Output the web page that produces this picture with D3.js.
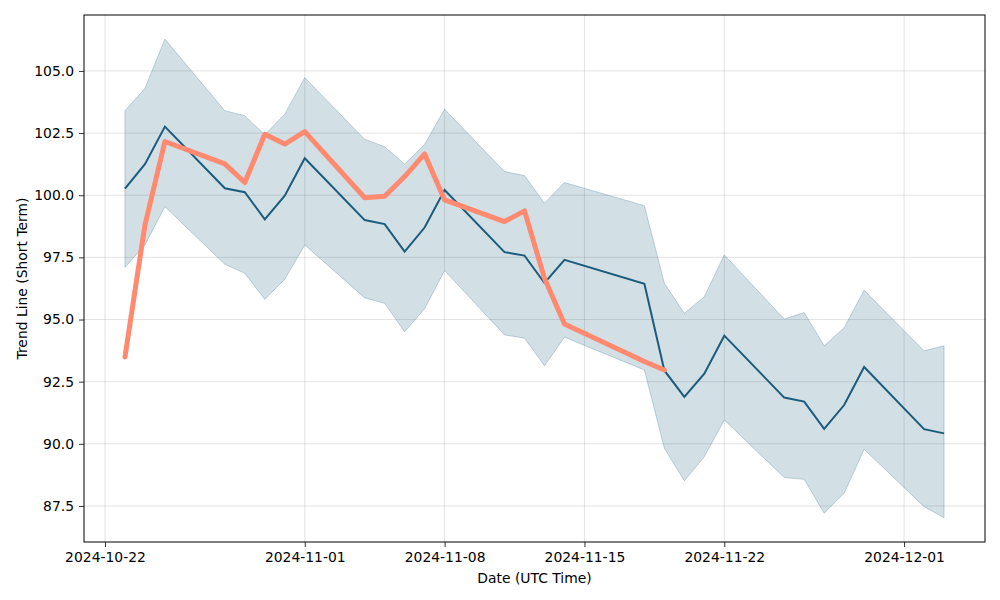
<!DOCTYPE html>
<html>
<head>
<meta charset="utf-8">
<script src="https://cdn.jsdelivr.net/npm/d3@7"></script>
<style>
  body { margin: 0; background: #fff; }
  svg { font-family: "DejaVu Sans", sans-serif; }
</style>
</head>
<body>
<svg id="chart" width="1000" height="600"></svg>
<script>
var dates = ["2024-10-23","2024-10-24","2024-10-25","2024-10-28","2024-10-29","2024-10-30","2024-10-31",
             "2024-11-01","2024-11-04","2024-11-05","2024-11-06","2024-11-07","2024-11-08","2024-11-11",
             "2024-11-12","2024-11-13","2024-11-14","2024-11-18","2024-11-19","2024-11-20","2024-11-21",
             "2024-11-22","2024-11-25","2024-11-26","2024-11-27","2024-11-28","2024-11-29","2024-12-02",
             "2024-12-03"];

var trend = [100.27, 101.25, 102.76, 100.28, 100.12, 99.03, 99.98,
             101.49, 99.0, 98.84, 97.73, 98.70, 100.21, 97.71,
             97.57, 96.47, 97.40, 96.44, 92.95, 91.89, 92.82,
             94.35, 91.86, 91.70, 90.60, 91.56, 93.09, 90.59,
             90.42];

var upper = [103.40, 104.30, 106.28, 103.40, 103.20, 102.43, 103.26,
             104.73, 102.25, 101.95, 101.25, 102.05, 103.46, 100.95,
             100.79, 99.68, 100.51, 99.58, 96.46, 95.25, 95.92,
             97.60, 95.02, 95.28, 93.94, 94.67, 96.18, 93.74,
             93.94];

var lower = [97.10, 98.0, 99.54, 97.22, 96.86, 95.81, 96.62,
             98.0, 95.87, 95.65, 94.51, 95.43, 96.97, 94.38,
             94.25, 93.14, 94.29, 92.97, 89.82, 88.51, 89.48,
             90.96, 88.64, 88.57, 87.21, 88.01, 89.78, 87.47,
             87.03];

// actual price, only up to 2024-11-19
var actual = [93.49, 98.8, 102.16, 101.26, 100.51, 102.45, 102.06,
              102.56, 99.90, 99.96, 100.75, 101.66, 99.81, 98.94,
              99.37, 96.66, 94.82, 93.31, 92.97];

var xTicks = ["2024-10-22","2024-11-01","2024-11-08","2024-11-15","2024-11-22","2024-12-01"];
var yTicks = [87.5, 90.0, 92.5, 95.0, 97.5, 100.0, 102.5, 105.0];

var parse = d3.utcParse("%Y-%m-%d");
var fmt = d3.utcFormat("%Y-%m-%d");

var margin = {left: 84, right: 15, top: 15, bottom: 58},
    width = 1000 - margin.left - margin.right,
    height = 600 - margin.top - margin.bottom;

var svg = d3.select("#chart");
var g = svg.append("g").attr("transform", "translate(" + margin.left + "," + margin.top + ")");

var t0 = parse(dates[0]), t1 = parse(dates[dates.length - 1]);
var pad = (t1 - t0) * 0.05;
var x = d3.scaleUtc().domain([new Date(+t0 - pad), new Date(+t1 + pad)]).range([0, width]);
var y = d3.scaleLinear().domain([86.05, 107.25]).range([height, 0]);

var rows = dates.map(function(d, i) {
    return {date: parse(d), trend: trend[i], upper: upper[i], lower: lower[i], actual: actual[i]};
});

// grid
g.append("g").selectAll("line").data(xTicks).enter().append("line")
    .attr("x1", d => x(parse(d))).attr("x2", d => x(parse(d)))
    .attr("y1", 0).attr("y2", height)
    .attr("stroke", "#b0b0b0").attr("stroke-opacity", 0.45).attr("stroke-width", 0.8);
g.append("g").selectAll("line").data(yTicks).enter().append("line")
    .attr("x1", 0).attr("x2", width)
    .attr("y1", d => y(d)).attr("y2", d => y(d))
    .attr("stroke", "#b0b0b0").attr("stroke-opacity", 0.45).attr("stroke-width", 0.8);

// band
var area = d3.area().x(d => x(d.date)).y0(d => y(d.lower)).y1(d => y(d.upper));
g.append("path").datum(rows)
    .attr("d", area)
    .attr("fill", "#1f5f7f").attr("fill-opacity", 0.2)
    .attr("stroke", "#1f5f7f").attr("stroke-opacity", 0.25).attr("stroke-width", 1);

// trend line
var line = d3.line().x(d => x(d.date)).y(d => y(d.trend));
g.append("path").datum(rows)
    .attr("d", line)
    .attr("fill", "none").attr("stroke", "#1b5c7c").attr("stroke-width", 2);

// actual line
var line2 = d3.line().x(d => x(d.date)).y(d => y(d.actual));
g.append("path").datum(rows.slice(0, actual.length))
    .attr("d", line2)
    .attr("fill", "none").attr("stroke", "#ff8a70").attr("stroke-width", 5)
    .attr("stroke-linejoin", "round").attr("stroke-linecap", "round");

// axes
var xAxis = d3.axisBottom(x).tickValues(xTicks.map(parse)).tickFormat(fmt).tickSizeOuter(0).tickSize(5).tickPadding(5);
var yAxis = d3.axisLeft(y).tickValues(yTicks).tickFormat(d3.format(".1f")).tickSizeOuter(0).tickSize(5).tickPadding(5);

var gx = g.append("g").attr("transform", "translate(0," + height + ")").call(xAxis);
var gy = g.append("g").call(yAxis);
[gx, gy].forEach(function(a) {
    a.select(".domain").remove();
    a.selectAll("text").attr("font-size", "13.9px").attr("fill", "#000").attr("font-family", "DejaVu Sans");
    a.selectAll("line").attr("stroke", "#000").attr("stroke-width", 0.8);
});

// frame
g.append("rect").attr("width", width).attr("height", height)
    .attr("fill", "none").attr("stroke", "#000").attr("stroke-width", 1);

// labels
svg.append("text").attr("x", margin.left + width / 2).attr("y", 583)
    .attr("text-anchor", "middle").attr("font-size", "13.9px").text("Date (UTC Time)");
svg.append("text").attr("transform", "translate(27," + (margin.top + height / 2) + ") rotate(-90)")
    .attr("text-anchor", "middle").attr("font-size", "13.9px").text("Trend Line (Short Term)");
</script>
</body>
</html>
